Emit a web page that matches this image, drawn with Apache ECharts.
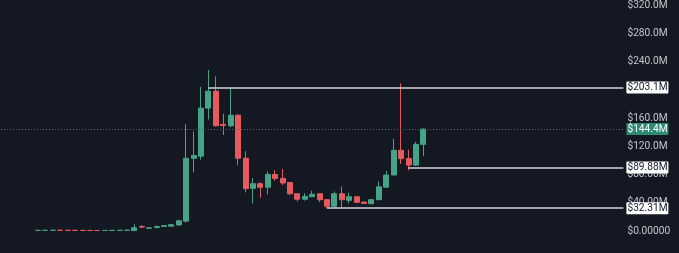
<!DOCTYPE html>
<html>
<head>
<meta charset="utf-8">
<script src="https://cdn.jsdelivr.net/npm/echarts@6/dist/echarts.min.js"></script>
<style>
    html, body {
        margin: 0;
        padding: 0;
        background: #141823;
    }
    #chart {
        width: 679px;
        height: 253px;
    }
</style>
</head>
<body>
<div id="chart"></div>
<script>
// values in millions of dollars, one entry per candle
var opens = [0.8, 0.9, 1.0, 1.1, 1.0, 0.9, 0.85, 0.8, 0.75, 0.7, 0.8, 0.9, 1.0,
    0.6, 6.5, 4.0, 5.0, 6.5, 6.8, 8.5, 14, 103, 106, 174, 198, 151, 149, 164, 103,
    60.5, 67, 62, 80, 74.5, 68.5, 52.7, 45, 48.5, 52.7, 44.3, 35, 52.7, 43.4, 48.5,
    41, 38.7, 44.3, 62, 79.3, 114.3, 102.5, 93.3, 122.7];
var closes = [0.9, 1.0, 1.1, 1.0, 0.9, 0.85, 0.8, 0.75, 0.7, 0.8, 0.9, 1.0, 1.2,
    4.6, 5.5, 4.5, 6.5, 7.5, 9.0, 14.5, 103, 107, 174, 198, 149, 149.5, 164, 103, 60,
    67, 62, 80, 74.5, 68, 52.7, 45, 49, 52, 44.3, 35, 52.7, 44.3, 48.5, 40.6,
    39, 44.3, 62.5, 79.3, 114.3, 102.5, 93.3, 122.7, 144.4];
var lows = [0.7, 0.8, 0.9, 0.9, 0.8, 0.8, 0.7, 0.7, 0.6, 0.6, 0.7, 0.8, 0.9,
    0.4, 4.0, 3.0, 3.5, 6.0, 6.5, 8.0, 12, 83, 101, 158, 148, 136, 147, 93, 54.5,
    39, 47, 52, 71, 65, 51, 42, 43, 48, 41, 32.3, 33, 33, 39, 40,
    38.5, 38, 44, 61.5, 79, 95, 86, 92, 106];
var highs = [1.0, 1.1, 1.2, 1.2, 1.1, 1.0, 0.9, 0.9, 0.8, 0.9, 1.0, 1.1, 1.4,
    9.5, 8.0, 5.5, 7.5, 8.0, 9.5, 15, 151, 141, 204, 228, 219, 166, 203, 165, 113,
    75, 69, 84, 86, 88, 69, 53, 53.6, 57, 53, 45, 56, 63, 54, 49,
    41.5, 45.5, 70, 85, 130.5, 209, 115, 126, 145];

// y axis ticks
var tickValues = [0, 40, 80, 120, 160, 200, 240, 280, 320];
var tickLabels = ['$0.00000', '$40.00M', '$80.00M', '$120.0M', '$160.0M', '$200.0M', '$240.0M', '$280.0M', '$320.0M'];

// horizontal levels: value, label, candle where the ray starts
var levelValues = [203.1, 89.88, 32.31];
var levelLabels = ['$203.1M', '$89.88M', '$32.31M'];
var levelStart = [24, 51, 40];

var lastPrice = 144.4;
var lastPriceLabel = '$144.4M';

var padLeft = 5;
var padRight = 27;

var chart = echarts.init(document.getElementById('chart'));

var total = padLeft + opens.length + padRight;
var categories = [];
var candles = [];
for (var i = 0; i < total; i++) {
    categories.push(String(i));
    var k = i - padLeft;
    if (k >= 0 && k < opens.length) {
        candles.push([opens[k], closes[k], lows[k], highs[k]]);
    } else {
        candles.push('-');
    }
}

var fontFamily = 'Roboto, "Noto Sans", sans-serif';
var fontSize = 10.2;

function boxLabel(text, color, bg) {
    return {
        show: true,
        position: 'end',
        distance: 3,
        formatter: text,
        color: color,
        backgroundColor: bg,
        padding: [1, 1, 0, 1],
        width: 40,
        lineHeight: 11,
        borderRadius: 1,
        fontFamily: fontFamily,
        fontSize: fontSize
    };
}

var marks = [];
// dotted last price line across the pane
marks.push({
    yAxis: lastPrice,
    lineStyle: { color: '#5a5e69', type: [1, 2], width: 1 },
    label: boxLabel(lastPriceLabel, '#ffffff', '#2e8b73')
});
for (var j = 0; j < levelValues.length; j++) {
    marks.push([
        {
            coord: [String(levelStart[j] - 1 + padLeft), levelValues[j]],
            lineStyle: { color: '#d0d3d9', type: 'solid', width: 1.5 },
            label: boxLabel(levelLabels[j], '#131722', '#ffffff')
        },
        {
            coord: [String(total - 1), levelValues[j]]
        }
    ]);
}

var option = {
    backgroundColor: '#141823',
    animation: false,
    grid: {
        left: 1,
        right: 55.6,
        top: 2.2,
        bottom: 22,
        containLabel: false
    },
    xAxis: {
        type: 'category',
        data: categories,
        boundaryGap: false,
        axisLine: { show: false },
        axisTick: { show: false },
        axisLabel: { show: false },
        splitLine: { show: false }
    },
    yAxis: {
        type: 'value',
        position: 'right',
        min: 0,
        max: 320,
        interval: 40,
        axisLine: { show: false },
        axisTick: { show: false },
        splitLine: { show: false },
        axisLabel: {
            margin: 4,
            color: '#c3c6ce',
            fontFamily: fontFamily,
            fontSize: fontSize,
            formatter: function (value) {
                var idx = tickValues.indexOf(value);
                return idx >= 0 ? tickLabels[idx] : '';
            }
        }
    },
    series: [
        {
            type: 'candlestick',
            data: candles,
            barWidth: 5.5,
            clip: false,
            itemStyle: {
                color: '#45a487',
                color0: '#e65a5d',
                borderColor: '#45a487',
                borderColor0: '#e65a5d',
                borderWidth: 1
            },
            markLine: {
                symbol: ['none', 'none'],
                silent: true,
                animation: false,
                data: marks
            }
        }
    ]
};

chart.setOption(option);
</script>
</body>
</html>
